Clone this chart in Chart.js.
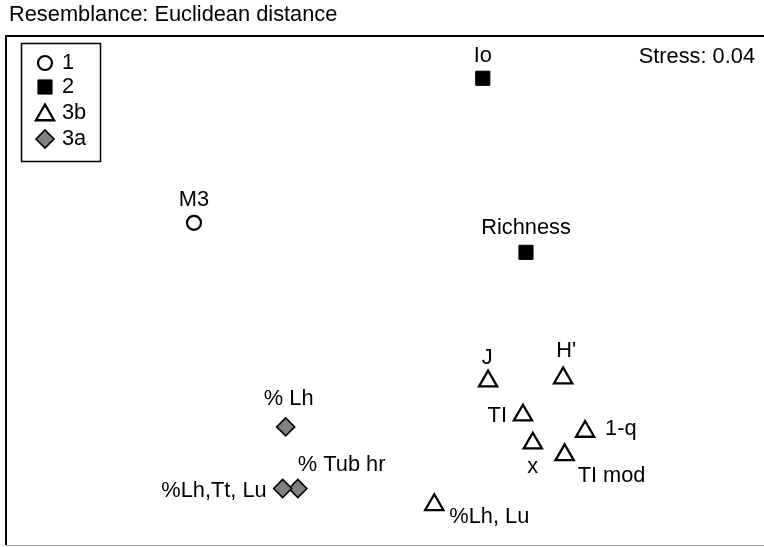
<!DOCTYPE html>
<html>
<head>
<meta charset="utf-8">
<script src="https://cdn.jsdelivr.net/npm/chart.js@4/dist/chart.umd.min.js"></script>
<style>
  html, body { margin: 0; padding: 0; background: #fff; overflow: hidden; }
  #wrap { position: relative; width: 764px; height: 547px; }
</style>
</head>
<body>
<div id="wrap"><canvas id="c" width="764" height="547"></canvas></div>
<script>
// ---- Data (MDS ordination coordinates, arbitrary units) ----
const titleText = 'Resemblance: Euclidean distance';
const stressText = 'Stress: 0.04';
const groupNames = ['1', '2', '3b', '3a'];

const namesG1 = ['M3'];
const xG1 = [24.8];
const yG1 = [63.3];

const namesG2 = ['Io', 'Richness'];
const xG2 = [62.9, 68.6];
const yG2 = [91.7, 57.5];

const namesG3b = ['J', "H'", 'TI', '1-q', 'x', 'TI mod', '%Lh, Lu'];
const xG3b = [63.6, 73.5, 68.2, 76.4, 69.5, 73.7, 56.5];
const yG3b = [32.2, 32.8, 25.5, 22.3, 20.0, 17.7, 7.9];

const namesG3a = ['% Lh', '% Tub hr', '%Lh,Tt, Lu'];
const xG3a = [36.9, 38.5, 36.5];
const yG3a = [23.2, 11.1, 11.1];

// ---- Styling / label placement (pixels relative to marker) ----
const FONT = '21.8px "Liberation Sans", Arial, sans-serif';
const labelPlace = {
  'M3': [0, -23, 'center'],
  'Io': [0, -22, 'center'],
  'Richness': [0, -24, 'center'],
  'J': [-1, -23, 'center'],
  "H'": [3, -27, 'center'],
  'TI': [-16, 1, 'right'],
  '1-q': [20, -3, 'left'],
  'x': [0, 24, 'center'],
  'TI mod': [13, 21, 'left'],
  '%Lh, Lu': [15, 12, 'left'],
  '% Lh': [3, -28, 'center'],
  '% Tub hr': [0, -24, 'left'],
  '%Lh,Tt, Lu': [-16, 2, 'right']
};

const groupStyles = [
  { pointStyle: 'circle', radius: 7, bg: '#ffffff', border: '#000000', bw: 2.2 },
  { pointStyle: 'rect', radius: 10, bg: '#000000', border: '#000000', bw: 1 },
  { pointStyle: 'triangle', radius: 10.5, bg: '#ffffff', border: '#000000', bw: 2.3 },
  { pointStyle: 'rectRot', radius: 9, bg: '#808080', border: '#000000', bw: 1.6 }
];

const groupX = [xG1, xG2, xG3b, xG3a];
const groupY = [yG1, yG2, yG3b, yG3a];
const groupLabels = [namesG1, namesG2, namesG3b, namesG3a];

const datasets = groupNames.map((g, i) => ({
  label: g,
  data: groupX[i].map((x, k) => ({ x: x, y: groupY[i][k], name: groupLabels[i][k] })),
  pointStyle: groupStyles[i].pointStyle,
  pointRadius: groupStyles[i].radius,
  pointBackgroundColor: groupStyles[i].bg,
  pointBorderColor: groupStyles[i].border,
  pointBorderWidth: groupStyles[i].bw,
  pointHoverRadius: groupStyles[i].radius,
  showLine: false,
  clip: false
}));

function drawText(ctx, text, x, y, align) {
  ctx.textAlign = align;
  ctx.textBaseline = 'middle';
  ctx.fillText(text, x, y);
}

function drawMarker(ctx, st, x, y) {
  const H = (window.Chart && Chart.helpers) ? Chart.helpers : null;
  ctx.save();
  ctx.fillStyle = st.bg;
  ctx.strokeStyle = st.border;
  ctx.lineWidth = st.bw;
  if (H && H.drawPoint) {
    H.drawPoint(ctx, { pointStyle: st.pointStyle, radius: st.radius, borderWidth: st.bw, rotation: 0 }, x, y);
  }
  ctx.restore();
}

const framePlugin = {
  id: 'frame',
  beforeDatasetsDraw(chart) {
    const ctx = chart.ctx, a = chart.chartArea;
    ctx.save();
    ctx.strokeStyle = '#000';
    ctx.lineWidth = 2;
    ctx.beginPath();
    ctx.moveTo(a.left, a.bottom);
    ctx.lineTo(a.left, a.top);
    ctx.lineTo(chart.width + 2, a.top);
    ctx.stroke();
    ctx.strokeStyle = '#a0a0a0';
    ctx.lineWidth = 1;
    ctx.beginPath();
    ctx.moveTo(a.left, a.bottom + 0.5);
    ctx.lineTo(chart.width, a.bottom + 0.5);
    ctx.stroke();
    ctx.restore();
  },
  afterDatasetsDraw(chart) {
    const ctx = chart.ctx;
    ctx.save();
    ctx.fillStyle = '#000';
    ctx.font = FONT;
    // title and stress
    drawText(ctx, titleText, 9, 15, 'left');
    drawText(ctx, stressText, 755, 57, 'right');
    // point labels
    chart.data.datasets.forEach((ds, i) => {
      const meta = chart.getDatasetMeta(i);
      meta.data.forEach((el, k) => {
        const name = ds.data[k].name;
        const p = labelPlace[name] || [0, -22, 'center'];
        drawText(ctx, name, el.x + p[0], el.y + p[1], p[2]);
      });
    });
    // legend box
    ctx.strokeStyle = '#000';
    ctx.lineWidth = 1.5;
    ctx.strokeRect(21.5, 43.5, 79, 118);
    const ly = [63, 87, 113, 139];
    groupNames.forEach((g, i) => {
      drawMarker(ctx, groupStyles[i], 45, ly[i] + (groupStyles[i].pointStyle === 'triangle' ? 2 : 0));
      ctx.fillStyle = '#000';
      drawText(ctx, g, 62, ly[i], 'left');
    });
    ctx.restore();
  }
};

new Chart(document.getElementById('c'), {
  type: 'scatter',
  data: { datasets: datasets },
  options: {
    responsive: false,
    animation: false,
    events: [],
    layout: { autoPadding: false, padding: { left: 6, top: 36, right: 0, bottom: 2 } },
    scales: {
      x: { type: 'linear', min: 0, max: 100, display: false },
      y: { type: 'linear', min: 0, max: 100, display: false }
    },
    plugins: {
      legend: { display: false },
      tooltip: { enabled: false },
      title: { display: false }
    }
  },
  plugins: [framePlugin]
});
</script>
</body>
</html>
